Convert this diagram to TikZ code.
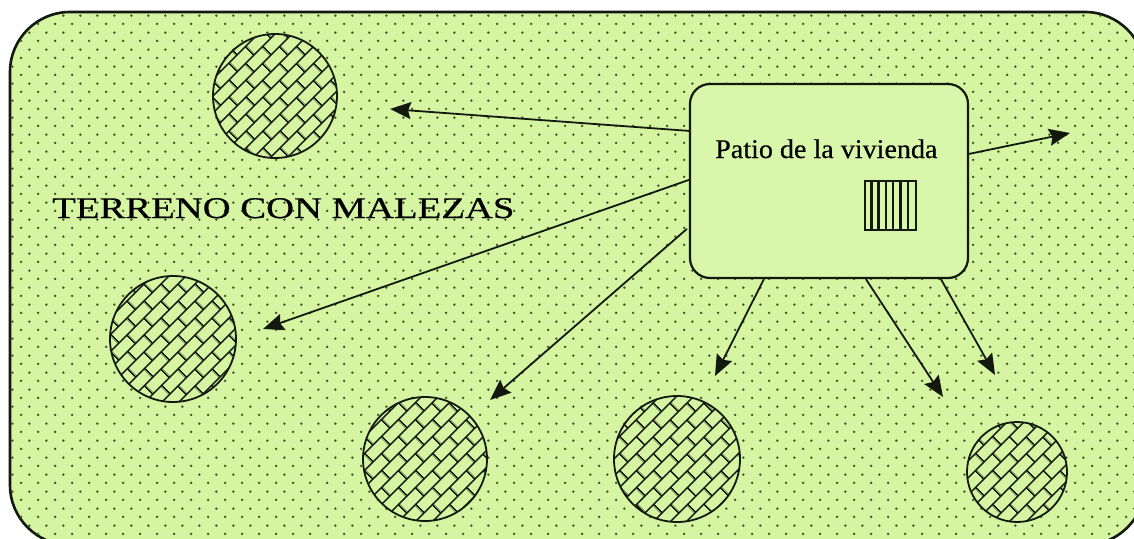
\documentclass[tikz,border=0pt]{standalone}
\usepackage{fontspec}
\setmainfont{Liberation Serif}
\newfontfamily\widefont[FakeStretch=1.29,FakeBold=0.6]{Liberation Serif}
\newfontfamily\patiofont[FakeStretch=1.04,FakeBold=0.4]{Liberation Serif}
\usetikzlibrary{patterns.meta,arrows.meta,calc}
\definecolor{bggreen}{RGB}{214,245,162}
\definecolor{boxgreen}{RGB}{217,247,170}
\definecolor{dotgreen}{RGB}{60,90,38}
\definecolor{inkc}{RGB}{20,25,15}
\tikzdeclarepattern{
  name=bgdots,
  type=colored,
  bounding box={(0pt,0pt) and (16.7pt,16.7pt)},
  tile size={(16.7pt,16.7pt)},
  code={
    \fill[dotgreen] (4.2pt,4.2pt) circle (1.35pt);
    \fill[dotgreen] (12.55pt,12.55pt) circle (1.35pt);
  }
}
\tikzdeclarepattern{
  name=diagbricks,
  type=colored,
  bounding box={(0pt,0pt) and (24pt,24pt)},
  tile size={(24pt,24pt)},
  tile transformation={rotate=45},
  code={
    \draw[inkc,line width=1.6pt] (0pt,6pt) -- (24pt,6pt) (0pt,18pt) -- (24pt,18pt)
      (6pt,6pt) -- (6pt,18pt) (18pt,18pt) -- (18pt,24pt) (18pt,0pt) -- (18pt,6pt);
  }
}
\tikzset{
  bush/.style={circle, draw=inkc, line width=1.8pt, inner sep=0pt, minimum size=#1,
    fill=bggreen, postaction={pattern=diagbricks}},
  arr/.style={draw=inkc, line width=1.8pt, -{Stealth[length=21pt,width=17pt,inset=3pt]}},
  patiobox/.style={draw=inkc, line width=2.2pt, rounded corners=20pt, fill=boxgreen,
    inner sep=0pt, minimum width=278pt, minimum height=194pt},
}
\begin{document}
\begin{tikzpicture}[x=1pt,y=-1pt]
\clip (0,0) rectangle (1134,538);
\useasboundingbox (0,0) rectangle (1134,538);
\fill[white] (0,0) rectangle (1134,538);
% field
\path[draw=inkc, line width=2.6pt, rounded corners=60pt, fill=bggreen, postaction={pattern=bgdots}]
  (10,12) rectangle (1145,545);
\node[anchor=base west, inner sep=0pt, font=\widefont\fontsize{30}{30}\selectfont] (terreno) at (52,218) {TERRENO CON MALEZAS};
% bushes
\node[bush=124pt] (c1) at (275,96) {};
\node[bush=126pt] (c2) at (173,339) {};
\node[bush=124pt] (c3) at (425,459) {};
\node[bush=126pt] (c4) at (677,459) {};
\node[bush=100pt] (c5) at (1017,472) {};
% patio
\node[patiobox] (patio) at (829,181) {};
\node[anchor=base west, inner sep=0pt, font=\patiofont\fontsize{27}{27}\selectfont] (ptext) at (715,158) {Patio de la vivienda};
\node[draw=inkc, line width=2pt, inner sep=0pt, minimum width=51pt, minimum height=49pt] (grate) at (890.5,205.5) {};
\foreach \i in {1,...,6} {
  \draw[inkc, line width=2.4pt] ($(grate.north west)+(\i*7.3,0)$) -- ($(grate.south west)+(\i*7.3,0)$);
}
% arrow start points on the patio border and free ends
\coordinate (s1) at ($(patio.north west)+(0,48)$);
\coordinate (s2) at ($(patio.north east)+(0,71)$);
\coordinate (s3) at ($(patio.north west)+(0,97)$);
\coordinate (s4) at ($(patio.north west)+(-2,146)$);
\coordinate (s5) at ($(patio.south west)+(75,0)$);
\coordinate (s6) at ($(patio.south west)+(177,0)$);
\coordinate (s7) at ($(patio.south west)+(252,0)$);
\coordinate (t1) at (390,109);
\coordinate (t2) at (1070,133);
\coordinate (t3) at (263,329);
\coordinate (t4) at (490,400);
\coordinate (t5) at (715,376);
\coordinate (t6) at (943,397);
\coordinate (t7) at (995,375);
\foreach \k in {1,...,7} { \draw[arr] (s\k) -- (t\k); }
\end{tikzpicture}
\end{document}
